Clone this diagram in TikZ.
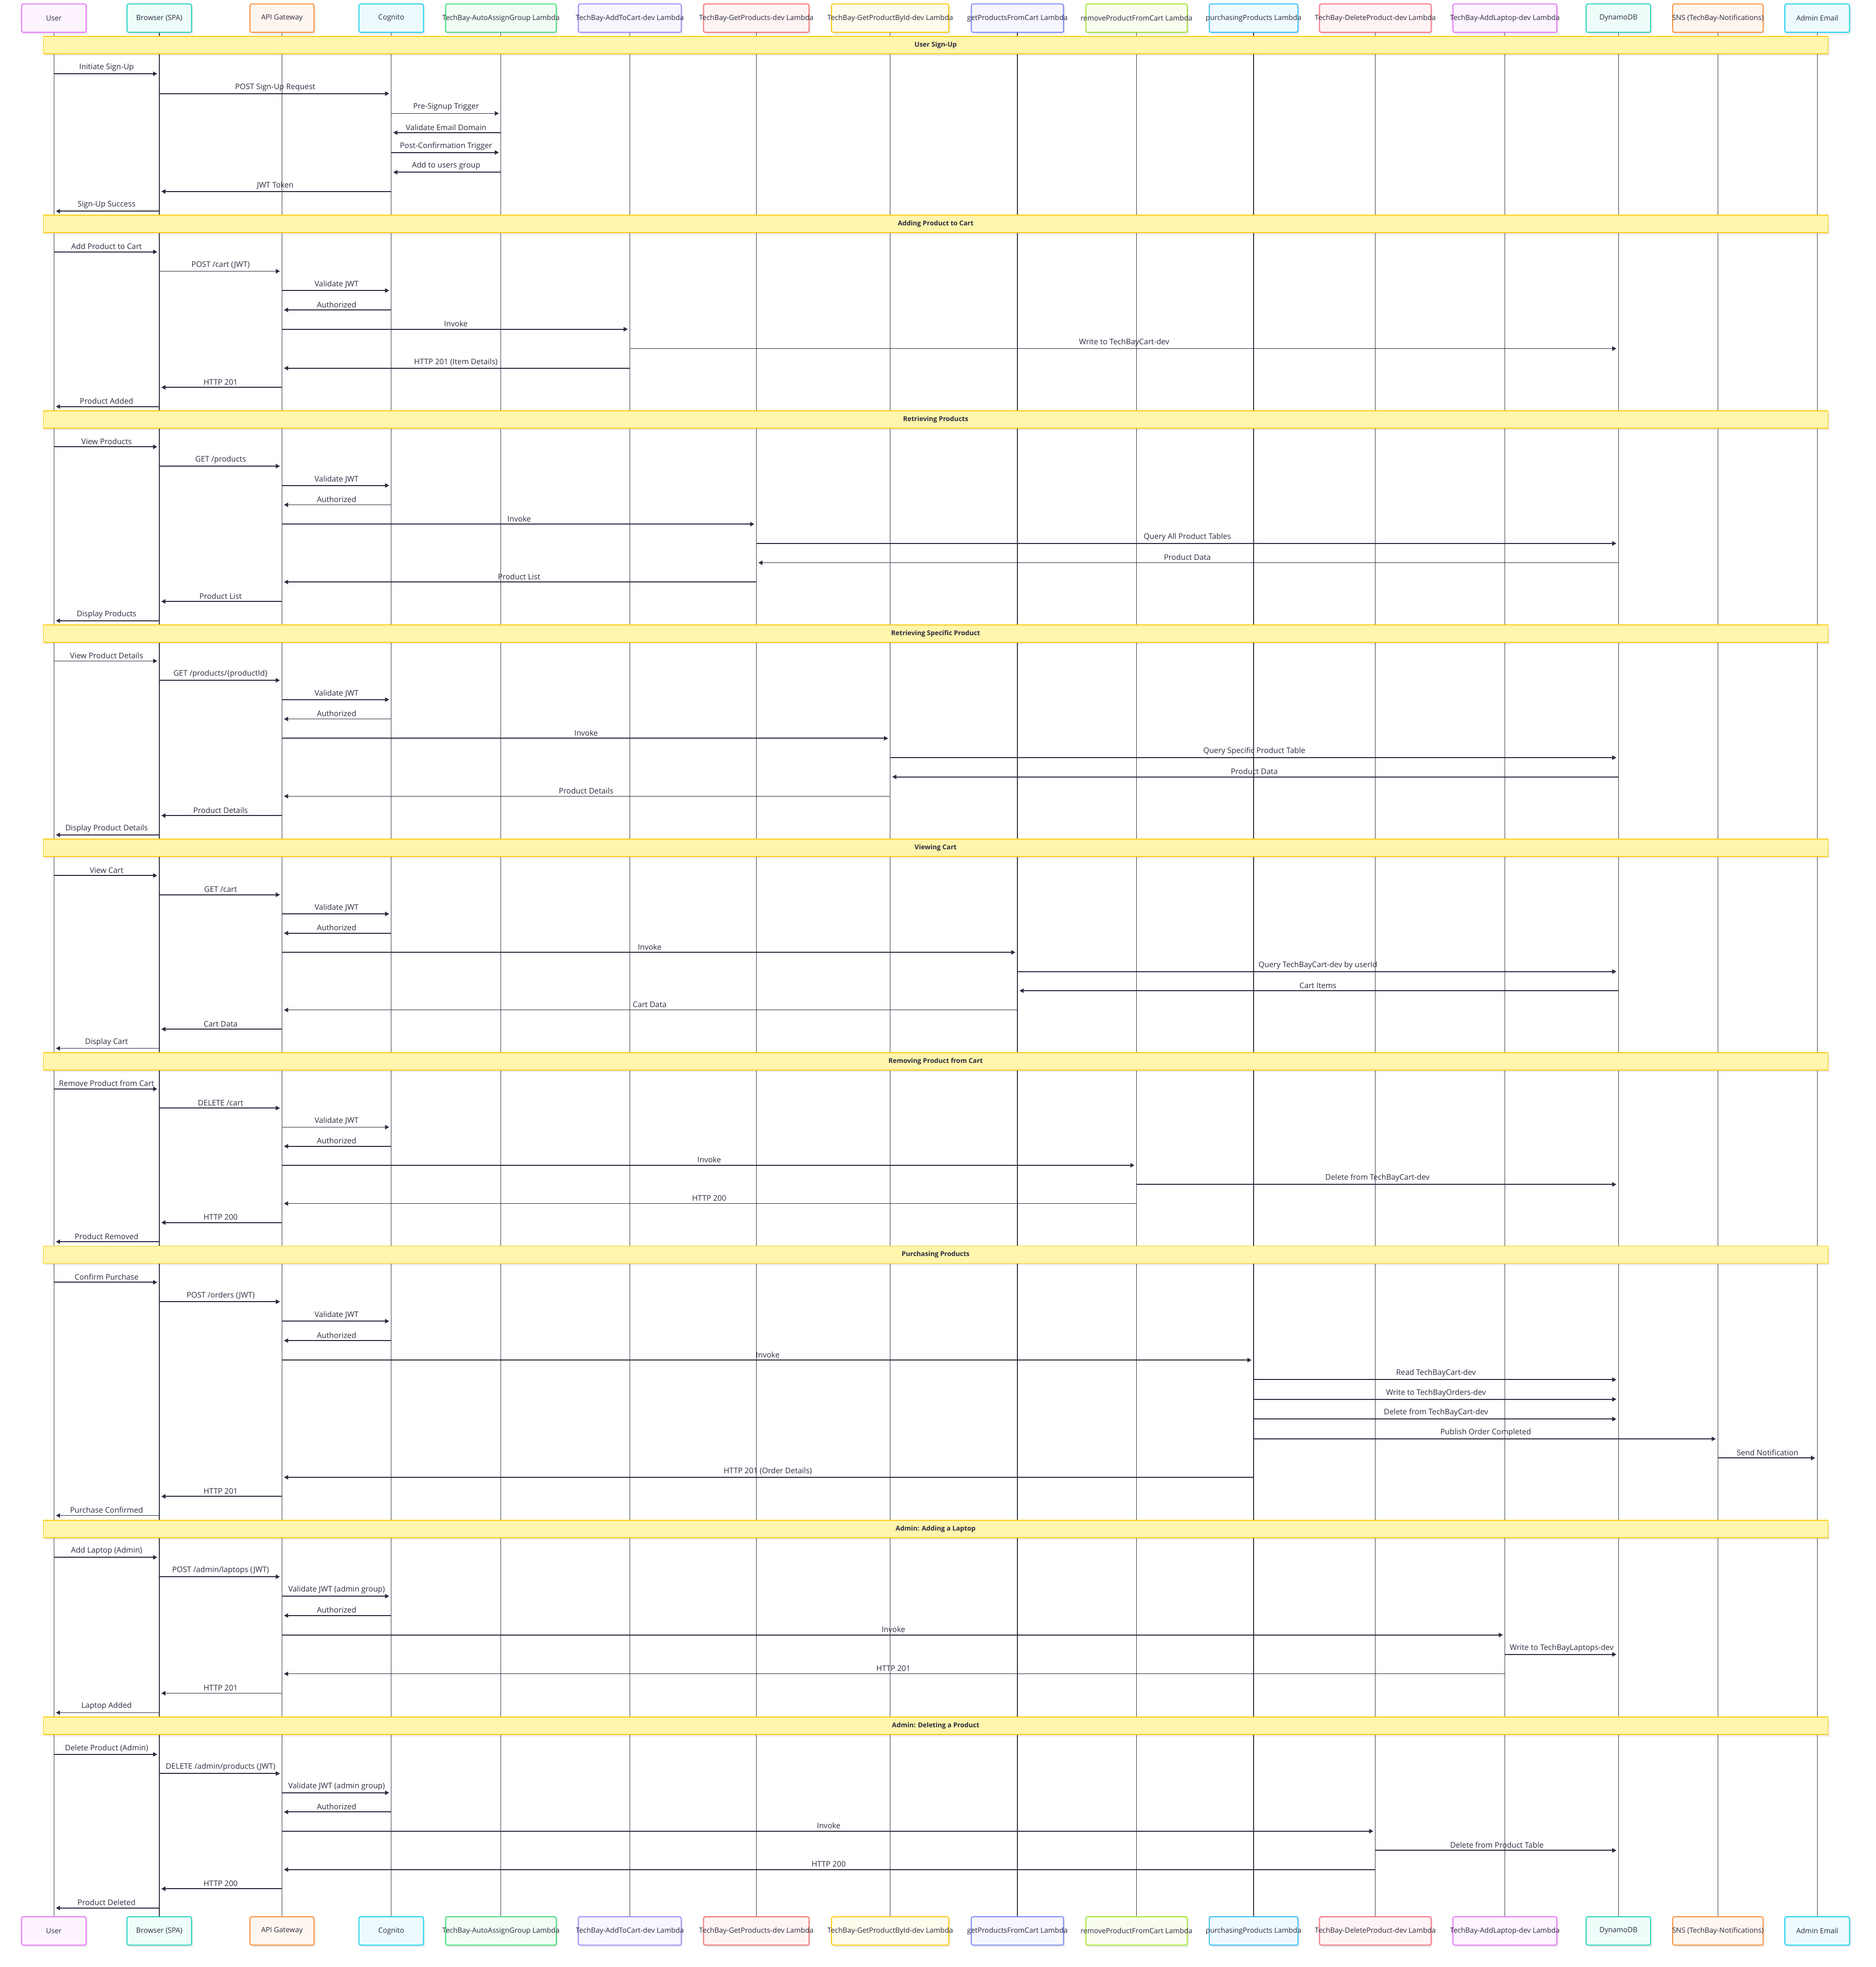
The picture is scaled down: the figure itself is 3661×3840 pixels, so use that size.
\documentclass[tikz,border=0pt]{standalone}
\usepackage{fontspec}
\setmainfont{Open Sans}
\usetikzlibrary{arrows.meta, shadows}
\definecolor{cfuchsia}{HTML}{E879F9}
\definecolor{cteal}{HTML}{2DD4BF}
\definecolor{corange}{HTML}{FB923C}
\definecolor{ccyan}{HTML}{22D3EE}
\definecolor{cgreen}{HTML}{4ADE80}
\definecolor{cviolet}{HTML}{A78BFA}
\definecolor{cred}{HTML}{F87171}
\definecolor{cyellow}{HTML}{FACC15}
\definecolor{cindigo}{HTML}{818CF8}
\definecolor{clime}{HTML}{A3E635}
\definecolor{csky}{HTML}{38BDF8}
\definecolor{crose}{HTML}{FB7185}
\definecolor{ink}{HTML}{2B2A3D}
\definecolor{lifegray}{HTML}{3A3948}
\definecolor{notefill}{HTML}{FFF5AD}
\definecolor{noteline}{HTML}{FACC15}
\newcommand{\olbl}[1]{\makebox[0pt]{#1}}

\begin{document}
\begin{tikzpicture}[
          x=1pt, y=-1pt,
          actor/.style={
              draw=#1,
              fill=#1!8,
              line width=2pt,
              rounded corners=3.5pt,
              minimum height=55.5pt,
              inner sep=0pt,
              text=ink,
              font=\fontsize{14}{17}\selectfont,
              drop shadow={shadow xshift=3pt, shadow yshift=-4pt, fill=black, opacity=0.08}
            },
          phase/.style={
              draw=noteline,
              fill=notefill,
              line width=1.8pt,
              minimum width=3484pt,
              minimum height=34pt,
              inner sep=0pt,
              text=ink,
              font=\bfseries\fontsize{13}{16}\selectfont,
              drop shadow={shadow xshift=3pt, shadow yshift=-4pt, fill=black, opacity=0.08}
            },
          lifeline/.style={draw=lifegray, line width=1.3pt},
          msg/.style={-{Triangle[length=8pt, width=8.5pt]}, draw=ink, line width=1.7pt, shorten >=4pt},
          lbl/.style={midway, above=4pt, inner sep=0pt, text=ink, font=\fontsize{15}{18}\selectfont}
        ]
        \useasboundingbox (0,0) rectangle (3661,3840);

        % participants, top row
        \node[actor=cfuchsia, minimum width=126pt] (user) at (105.2,35.5) {\olbl{User}};
        \node[actor=cteal, minimum width=126pt] (browser) at (310.9,35.5) {\olbl{Browser (SPA)}};
        \node[actor=corange, minimum width=125pt] (api) at (550.4,35.5) {\olbl{API Gateway}};
        \node[actor=ccyan, minimum width=126pt] (cognito) at (763.7,35.5) {\olbl{Cognito}};
        \node[actor=cgreen, minimum width=216pt] (autogrp) at (977.8,35.5) {\olbl{TechBay-AutoAssignGroup Lambda}};
        \node[actor=cviolet, minimum width=201pt] (addcart) at (1229.4,35.5) {\olbl{TechBay-AddToCart-dev Lambda}};
        \node[actor=cred, minimum width=206pt] (getprods) at (1476.3,35.5) {\olbl{TechBay-GetProducts-dev Lambda}};
        \node[actor=cyellow, minimum width=229pt] (getbyid) at (1737.7,35.5) {\olbl{TechBay-GetProductById-dev Lambda}};
        \node[actor=cindigo, minimum width=180pt] (getcart) at (1986,35.5) {\olbl{getProductsFromCart Lambda}};
        \node[actor=clime, minimum width=198pt] (rmcart) at (2218.5,35.5) {\olbl{removeProductFromCart Lambda}};
        \node[actor=csky, minimum width=173pt] (purchase) at (2447,35.5) {\olbl{purchasingProducts Lambda}};
        \node[actor=crose, minimum width=218pt] (delprod) at (2684.7,35.5) {\olbl{TechBay-DeleteProduct-dev Lambda}};
        \node[actor=cfuchsia, minimum width=203pt] (addlaptop) at (2937.6,35.5) {\olbl{TechBay-AddLaptop-dev Lambda}};
        \node[actor=cteal, minimum width=126pt] (dynamo) at (3159.2,35.5) {\olbl{DynamoDB}};
        \node[actor=corange, minimum width=176.5pt] (sns) at (3353.3,35.5) {\olbl{SNS (TechBay-Notifications)}};
        \node[actor=ccyan, minimum width=126pt] (email) at (3547.2,35.5) {\olbl{Admin Email}};

        % participants, bottom row
        \node[actor=cfuchsia, minimum width=126pt] (user_b) at (105.2,3769.5) {\olbl{User}};
        \node[actor=cteal, minimum width=126pt] (browser_b) at (310.9,3769.5) {\olbl{Browser (SPA)}};
        \node[actor=corange, minimum width=125pt] (api_b) at (550.4,3769.5) {\olbl{API Gateway}};
        \node[actor=ccyan, minimum width=126pt] (cognito_b) at (763.7,3769.5) {\olbl{Cognito}};
        \node[actor=cgreen, minimum width=216pt] (autogrp_b) at (977.8,3769.5) {\olbl{TechBay-AutoAssignGroup Lambda}};
        \node[actor=cviolet, minimum width=201pt] (addcart_b) at (1229.4,3769.5) {\olbl{TechBay-AddToCart-dev Lambda}};
        \node[actor=cred, minimum width=206pt] (getprods_b) at (1476.3,3769.5) {\olbl{TechBay-GetProducts-dev Lambda}};
        \node[actor=cyellow, minimum width=229pt] (getbyid_b) at (1737.7,3769.5) {\olbl{TechBay-GetProductById-dev Lambda}};
        \node[actor=cindigo, minimum width=180pt] (getcart_b) at (1986,3769.5) {\olbl{getProductsFromCart Lambda}};
        \node[actor=clime, minimum width=198pt] (rmcart_b) at (2218.5,3769.5) {\olbl{removeProductFromCart Lambda}};
        \node[actor=csky, minimum width=173pt] (purchase_b) at (2447,3769.5) {\olbl{purchasingProducts Lambda}};
        \node[actor=crose, minimum width=218pt] (delprod_b) at (2684.7,3769.5) {\olbl{TechBay-DeleteProduct-dev Lambda}};
        \node[actor=cfuchsia, minimum width=203pt] (addlaptop_b) at (2937.6,3769.5) {\olbl{TechBay-AddLaptop-dev Lambda}};
        \node[actor=cteal, minimum width=126pt] (dynamo_b) at (3159.2,3769.5) {\olbl{DynamoDB}};
        \node[actor=corange, minimum width=176.5pt] (sns_b) at (3353.3,3769.5) {\olbl{SNS (TechBay-Notifications)}};
        \node[actor=ccyan, minimum width=126pt] (email_b) at (3547.2,3769.5) {\olbl{Admin Email}};

        \foreach \p in {user,browser,api,cognito,autogrp,addcart,getprods,getbyid,getcart,rmcart,purchase,delprod,addlaptop,dynamo,sns,email}
          \draw[lifeline] (\p.south) -- (\p_b.north);

        % User Sign-Up
        \node[phase] (ph_signup) at (1826.4,88.3) {User Sign-Up};
        \draw[msg] (user |- 0,144) -- node[lbl] {Initiate Sign-Up} (browser |- 0,144);
        \draw[msg] (browser |- 0,182.7) -- node[lbl] {POST Sign-Up Request} (cognito |- 0,182.7);
        \draw[msg] (cognito |- 0,221.4) -- node[lbl] {Pre-Signup Trigger} (autogrp |- 0,221.4);
        \draw[msg] (autogrp |- 0,259) -- node[lbl] {Validate Email Domain} (cognito |- 0,259);
        \draw[msg] (cognito |- 0,297.7) -- node[lbl] {Post-Confirmation Trigger} (autogrp |- 0,297.7);
        \draw[msg] (autogrp |- 0,336.3) -- node[lbl] {Add to users group} (cognito |- 0,336.3);
        \draw[msg] (cognito |- 0,373.8) -- node[lbl] {JWT Token} (browser |- 0,373.8);
        \draw[msg] (browser |- 0,412.3) -- node[lbl] {Sign-Up Success} (user |- 0,412.3);

        % Adding Product to Cart
        \node[phase] (ph_addcart) at (1826.4,437.3) {Adding Product to Cart};
        \draw[msg] (user |- 0,491.7) -- node[lbl] {Add Product to Cart} (browser |- 0,491.7);
        \draw[msg] (browser |- 0,529.5) -- node[lbl] {POST /cart (JWT)} (api |- 0,529.5);
        \draw[msg] (api |- 0,567.2) -- node[lbl] {Validate JWT} (cognito |- 0,567.2);
        \draw[msg] (cognito |- 0,605) -- node[lbl] {Authorized} (api |- 0,605);
        \draw[msg] (api |- 0,642.7) -- node[lbl] {Invoke} (addcart |- 0,642.7);
        \draw[msg] (addcart |- 0,680.5) -- node[lbl] {Write to TechBayCart-dev} (dynamo |- 0,680.5);
        \draw[msg] (addcart |- 0,718.7) -- node[lbl] {HTTP 201 (Item Details)} (api |- 0,718.7);
        \draw[msg] (api |- 0,756.2) -- node[lbl] {HTTP 201} (browser |- 0,756.2);
        \draw[msg] (browser |- 0,793.7) -- node[lbl] {Product Added} (user |- 0,793.7);

        % Retrieving Products
        \node[phase] (ph_products) at (1826.4,819.1) {Retrieving Products};
        \draw[msg] (user |- 0,872.3) -- node[lbl] {View Products} (browser |- 0,872.3);
        \draw[msg] (browser |- 0,910) -- node[lbl] {GET /products} (api |- 0,910);
        \draw[msg] (api |- 0,947.7) -- node[lbl] {Validate JWT} (cognito |- 0,947.7);
        \draw[msg] (cognito |- 0,985.5) -- node[lbl] {Authorized} (api |- 0,985.5);
        \draw[msg] (api |- 0,1023.2) -- node[lbl] {Invoke} (getprods |- 0,1023.2);
        \draw[msg] (getprods |- 0,1060.9) -- node[lbl] {Query All Product Tables} (dynamo |- 0,1060.9);
        \draw[msg] (dynamo |- 0,1098.6) -- node[lbl] {Product Data} (getprods |- 0,1098.6);
        \draw[msg] (getprods |- 0,1136.3) -- node[lbl] {Product List} (api |- 0,1136.3);
        \draw[msg] (api |- 0,1174.1) -- node[lbl] {Product List} (browser |- 0,1174.1);
        \draw[msg] (browser |- 0,1211.8) -- node[lbl] {Display Products} (user |- 0,1211.8);

        % Retrieving Specific Product
        \node[phase] (ph_product) at (1826.4,1237.2) {Retrieving Specific Product};
        \draw[msg] (user |- 0,1290.4) -- node[lbl] {View Product Details} (browser |- 0,1290.4);
        \draw[msg] (browser |- 0,1328.1) -- node[lbl] {GET /products/\{productId\}} (api |- 0,1328.1);
        \draw[msg] (api |- 0,1365.8) -- node[lbl] {Validate JWT} (cognito |- 0,1365.8);
        \draw[msg] (cognito |- 0,1403.6) -- node[lbl] {Authorized} (api |- 0,1403.6);
        \draw[msg] (api |- 0,1441.3) -- node[lbl] {Invoke} (getbyid |- 0,1441.3);
        \draw[msg] (getbyid |- 0,1479) -- node[lbl] {Query Specific Product Table} (dynamo |- 0,1479);
        \draw[msg] (dynamo |- 0,1516.7) -- node[lbl] {Product Data} (getbyid |- 0,1516.7);
        \draw[msg] (getbyid |- 0,1554.4) -- node[lbl] {Product Details} (api |- 0,1554.4);
        \draw[msg] (api |- 0,1592.2) -- node[lbl] {Product Details} (browser |- 0,1592.2);
        \draw[msg] (browser |- 0,1629.9) -- node[lbl] {Display Product Details} (user |- 0,1629.9);

        % Viewing Cart
        \node[phase] (ph_viewcart) at (1826.4,1655.3) {Viewing Cart};
        \draw[msg] (user |- 0,1709.2) -- node[lbl] {View Cart} (browser |- 0,1709.2);
        \draw[msg] (browser |- 0,1746.7) -- node[lbl] {GET /cart} (api |- 0,1746.7);
        \draw[msg] (api |- 0,1784.2) -- node[lbl] {Validate JWT} (cognito |- 0,1784.2);
        \draw[msg] (cognito |- 0,1821.7) -- node[lbl] {Authorized} (api |- 0,1821.7);
        \draw[msg] (api |- 0,1859.2) -- node[lbl] {Invoke} (getcart |- 0,1859.2);
        \draw[msg] (getcart |- 0,1896.7) -- node[lbl] {Query TechBayCart-dev by userId} (dynamo |- 0,1896.7);
        \draw[msg] (dynamo |- 0,1934.1) -- node[lbl] {Cart Items} (getcart |- 0,1934.1);
        \draw[msg] (getcart |- 0,1971.6) -- node[lbl] {Cart Data} (api |- 0,1971.6);
        \draw[msg] (api |- 0,2009.1) -- node[lbl] {Cart Data} (browser |- 0,2009.1);
        \draw[msg] (browser |- 0,2046.6) -- node[lbl] {Display Cart} (user |- 0,2046.6);

        % Removing Product from Cart
        \node[phase] (ph_rmcart) at (1826.4,2072) {Removing Product from Cart};
        \draw[msg] (user |- 0,2125.9) -- node[lbl] {Remove Product from Cart} (browser |- 0,2125.9);
        \draw[msg] (browser |- 0,2163.2) -- node[lbl] {DELETE /cart} (api |- 0,2163.2);
        \draw[msg] (api |- 0,2200.4) -- node[lbl] {Validate JWT} (cognito |- 0,2200.4);
        \draw[msg] (cognito |- 0,2237.7) -- node[lbl] {Authorized} (api |- 0,2237.7);
        \draw[msg] (api |- 0,2274.9) -- node[lbl] {Invoke} (rmcart |- 0,2274.9);
        \draw[msg] (rmcart |- 0,2312.2) -- node[lbl] {Delete from TechBayCart-dev} (dynamo |- 0,2312.2);
        \draw[msg] (rmcart |- 0,2349.5) -- node[lbl] {HTTP 200} (api |- 0,2349.5);
        \draw[msg] (api |- 0,2386.7) -- node[lbl] {HTTP 200} (browser |- 0,2386.7);
        \draw[msg] (browser |- 0,2424) -- node[lbl] {Product Removed} (user |- 0,2424);

        % Purchasing Products
        \node[phase] (ph_purchase) at (1826.4,2449.4) {Purchasing Products};
        \draw[msg] (user |- 0,2503.3) -- node[lbl] {Confirm Purchase} (browser |- 0,2503.3);
        \draw[msg] (browser |- 0,2541.2) -- node[lbl] {POST /orders (JWT)} (api |- 0,2541.2);
        \draw[msg] (api |- 0,2579.2) -- node[lbl] {Validate JWT} (cognito |- 0,2579.2);
        \draw[msg] (cognito |- 0,2617.1) -- node[lbl] {Authorized} (api |- 0,2617.1);
        \draw[msg] (api |- 0,2655.1) -- node[lbl] {Invoke} (purchase |- 0,2655.1);
        \draw[msg] (purchase |- 0,2693.3) -- node[lbl] {Read TechBayCart-dev} (dynamo |- 0,2693.3);
        \draw[msg] (purchase |- 0,2731.7) -- node[lbl] {Write to TechBayOrders-dev} (dynamo |- 0,2731.7);
        \draw[msg] (purchase |- 0,2770.3) -- node[lbl] {Delete from TechBayCart-dev} (dynamo |- 0,2770.3);
        \draw[msg] (purchase |- 0,2809) -- node[lbl] {Publish Order Completed} (sns |- 0,2809);
        \draw[msg] (sns |- 0,2846.3) -- node[lbl] {Send Notification} (email |- 0,2846.3);
        \draw[msg] (purchase |- 0,2884) -- node[lbl] {HTTP 201 (Order Details)} (api |- 0,2884);
        \draw[msg] (api |- 0,2921.3) -- node[lbl] {HTTP 201} (browser |- 0,2921.3);
        \draw[msg] (browser |- 0,2958.6) -- node[lbl] {Purchase Confirmed} (user |- 0,2958.6);

        % Admin: Adding a Laptop
        \node[phase] (ph_laptop) at (1826.4,2984.7) {Admin: Adding a Laptop};
        \draw[msg] (user |- 0,3040.2) -- node[lbl] {Add Laptop (Admin)} (browser |- 0,3040.2);
        \draw[msg] (browser |- 0,3078.1) -- node[lbl] {POST /admin/laptops (JWT)} (api |- 0,3078.1);
        \draw[msg] (api |- 0,3116) -- node[lbl] {Validate JWT (admin group)} (cognito |- 0,3116);
        \draw[msg] (cognito |- 0,3153.9) -- node[lbl] {Authorized} (api |- 0,3153.9);
        \draw[msg] (api |- 0,3191.8) -- node[lbl] {Invoke} (addlaptop |- 0,3191.8);
        \draw[msg] (addlaptop |- 0,3229.7) -- node[lbl] {Write to TechBayLaptops-dev} (dynamo |- 0,3229.7);
        \draw[msg] (addlaptop |- 0,3267.6) -- node[lbl] {HTTP 201} (api |- 0,3267.6);
        \draw[msg] (api |- 0,3305.5) -- node[lbl] {HTTP 201} (browser |- 0,3305.5);
        \draw[msg] (browser |- 0,3343.4) -- node[lbl] {Laptop Added} (user |- 0,3343.4);

        % Admin: Deleting a Product
        \node[phase] (ph_delete) at (1826.4,3369) {Admin: Deleting a Product};
        \draw[msg] (user |- 0,3424.8) -- node[lbl] {Delete Product (Admin)} (browser |- 0,3424.8);
        \draw[msg] (browser |- 0,3462.3) -- node[lbl] {DELETE /admin/products (JWT)} (api |- 0,3462.3);
        \draw[msg] (api |- 0,3499.8) -- node[lbl] {Validate JWT (admin group)} (cognito |- 0,3499.8);
        \draw[msg] (cognito |- 0,3537.3) -- node[lbl] {Authorized} (api |- 0,3537.3);
        \draw[msg] (api |- 0,3574.8) -- node[lbl] {Invoke} (delprod |- 0,3574.8);
        \draw[msg] (delprod |- 0,3612.3) -- node[lbl] {Delete from Product Table} (dynamo |- 0,3612.3);
        \draw[msg] (delprod |- 0,3649.8) -- node[lbl] {HTTP 200} (api |- 0,3649.8);
        \draw[msg] (api |- 0,3687.3) -- node[lbl] {HTTP 200} (browser |- 0,3687.3);
        \draw[msg] (browser |- 0,3724.8) -- node[lbl] {Product Deleted} (user |- 0,3724.8);
      \end{tikzpicture}
\end{document}
